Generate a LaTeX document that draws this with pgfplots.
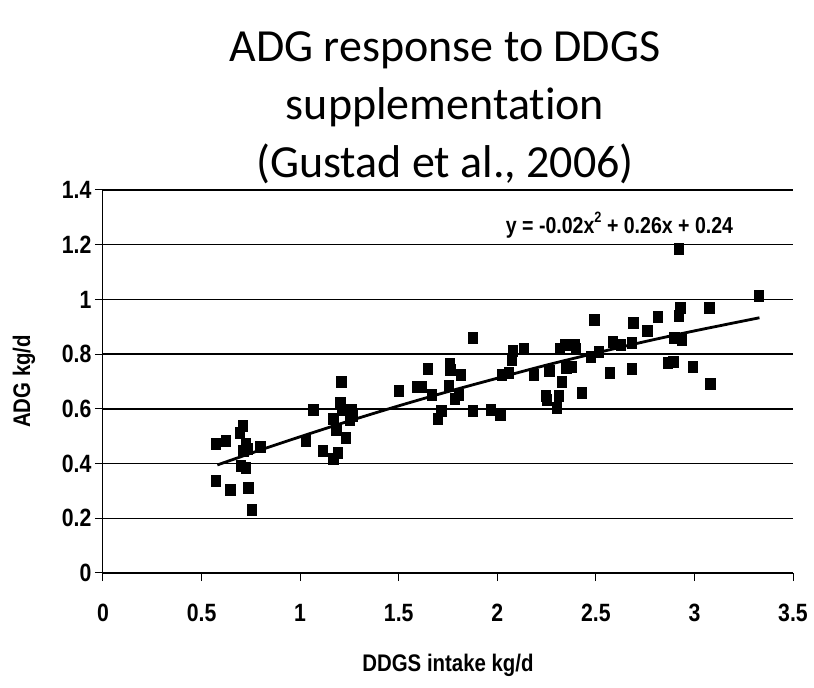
\documentclass[border=0pt]{standalone}
\usepackage{fontspec}
\setmainfont{Liberation Sans}
\newfontfamily\narrowfont[FakeStretch=0.85]{Liberation Sans}
\newfontfamily\titlefont[Ligatures=NoCommon]{Carlito}
\usepackage{pgfplots}
\pgfplotsset{compat=1.18}

\begin{document}
\begin{tikzpicture}[x=1pt,y=1pt]
\begin{axis}[
    at={(0pt,0pt)}, anchor=south west,
    scale only axis,
    width=690pt, height=383pt,
    xmin=0, xmax=3.5, ymin=0, ymax=1.4,
    xtick={0,0.5,1,1.5,2,2.5,3,3.5},
    ytick={0,0.2,0.4,0.6,0.8,1,1.2,1.4},
    axis x line*=bottom, axis y line*=left,
    axis line style={black, line width=1pt, -},
    ymajorgrids,
    grid style={black, line width=1.3pt},
    tick align=outside,
    major tick length=8pt,
    tick style={black, line width=1pt},
    /pgf/number format/assume math mode=true,
    ticklabel style={font=\narrowfont\bfseries\fontsize{25}{25}\selectfont},
    xticklabel style={yshift=-20pt},
    xlabel={DDGS intake kg/d},
    ylabel={ADG kg/d},
    label style={font=\narrowfont\bfseries\fontsize{24}{24}\selectfont},
    xlabel style={at={(axis description cs:0.5,-0.24)}, anchor=center},
    ylabel style={at={(axis description cs:-0.1145,0.5)}, anchor=center},
    clip=false,
]
% observations
\addplot[only marks, mark=square*, mark size=5.5pt, mark options={xscale=0.85, fill=black, draw=black}]
  coordinates {
    (0.572,0.471) (0.623,0.485) (0.572,0.337) (0.646,0.305) (0.693,0.513)
    (0.707,0.540) (0.723,0.471) (0.735,0.453) (0.712,0.447) (0.700,0.392)
    (0.723,0.386) (0.737,0.313) (0.754,0.232) (0.798,0.462)
    (1.027,0.485) (1.066,0.598) (1.113,0.447) (1.167,0.564) (1.167,0.416)
    (1.190,0.438) (1.183,0.525) (1.209,0.699) (1.204,0.623) (1.213,0.598)
    (1.232,0.493) (1.260,0.598) (1.267,0.574) (1.253,0.562)
    (1.500,0.665) (1.591,0.680) (1.615,0.680) (1.647,0.746) (1.668,0.653)
    (1.699,0.564) (1.715,0.595) (1.757,0.765) (1.761,0.744) (1.755,0.686)
    (1.785,0.637) (1.804,0.653) (1.815,0.726) (1.874,0.859) (1.874,0.592)
    (1.967,0.598) (2.014,0.580) (2.023,0.726) (2.058,0.732) (2.072,0.780)
    (2.077,0.811) (2.135,0.819) (2.186,0.726) (2.247,0.649) (2.252,0.635)
    (2.263,0.738) (2.303,0.604) (2.310,0.647) (2.326,0.701) (2.317,0.819)
    (2.345,0.835) (2.350,0.750) (2.375,0.754) (2.392,0.835) (2.399,0.819)
    (2.427,0.659) (2.473,0.792) (2.492,0.926) (2.515,0.808) (2.571,0.732)
    (2.585,0.847) (2.625,0.835) (2.683,0.746) (2.683,0.841) (2.690,0.914)
    (2.760,0.887) (2.814,0.936) (2.865,0.768) (2.893,0.774) (2.898,0.859)
    (2.921,0.942) (2.928,0.968) (2.935,0.851) (2.921,1.187) (2.991,0.754)
    (3.075,0.968) (3.080,0.693) (3.327,1.013)
  };
% fitted trend line
\addplot[black, line width=2.8pt, smooth]
  coordinates {
    (0.58,0.395) (0.80,0.450) (1.00,0.498) (1.25,0.556) (1.50,0.611)
    (1.75,0.663) (2.00,0.712) (2.25,0.760) (2.50,0.804) (2.75,0.846)
    (3.00,0.885) (3.33,0.933)
  };
\node[font=\narrowfont\bfseries\fontsize{23}{23}\selectfont] at (axis cs:2.62,1.272)
  {y = -0.02x\raisebox{0.45em}{\fontsize{15}{15}\selectfont 2} + 0.26x + 0.24};
\end{axis}
% title
\node[font=\titlefont\fontsize{46}{46}\selectfont, anchor=base] at (342,511) {ADG response to DDGS};
\node[font=\titlefont\fontsize{46}{46}\selectfont, anchor=base] at (342,453) {supplementation};
\node[font=\titlefont\fontsize{46}{46}\selectfont, anchor=base] at (342,395) {(Gustad et al., 2006)};
\pgfresetboundingbox
\path[use as bounding box] (-103,-115) rectangle (711,573);
\end{tikzpicture}
\end{document}
